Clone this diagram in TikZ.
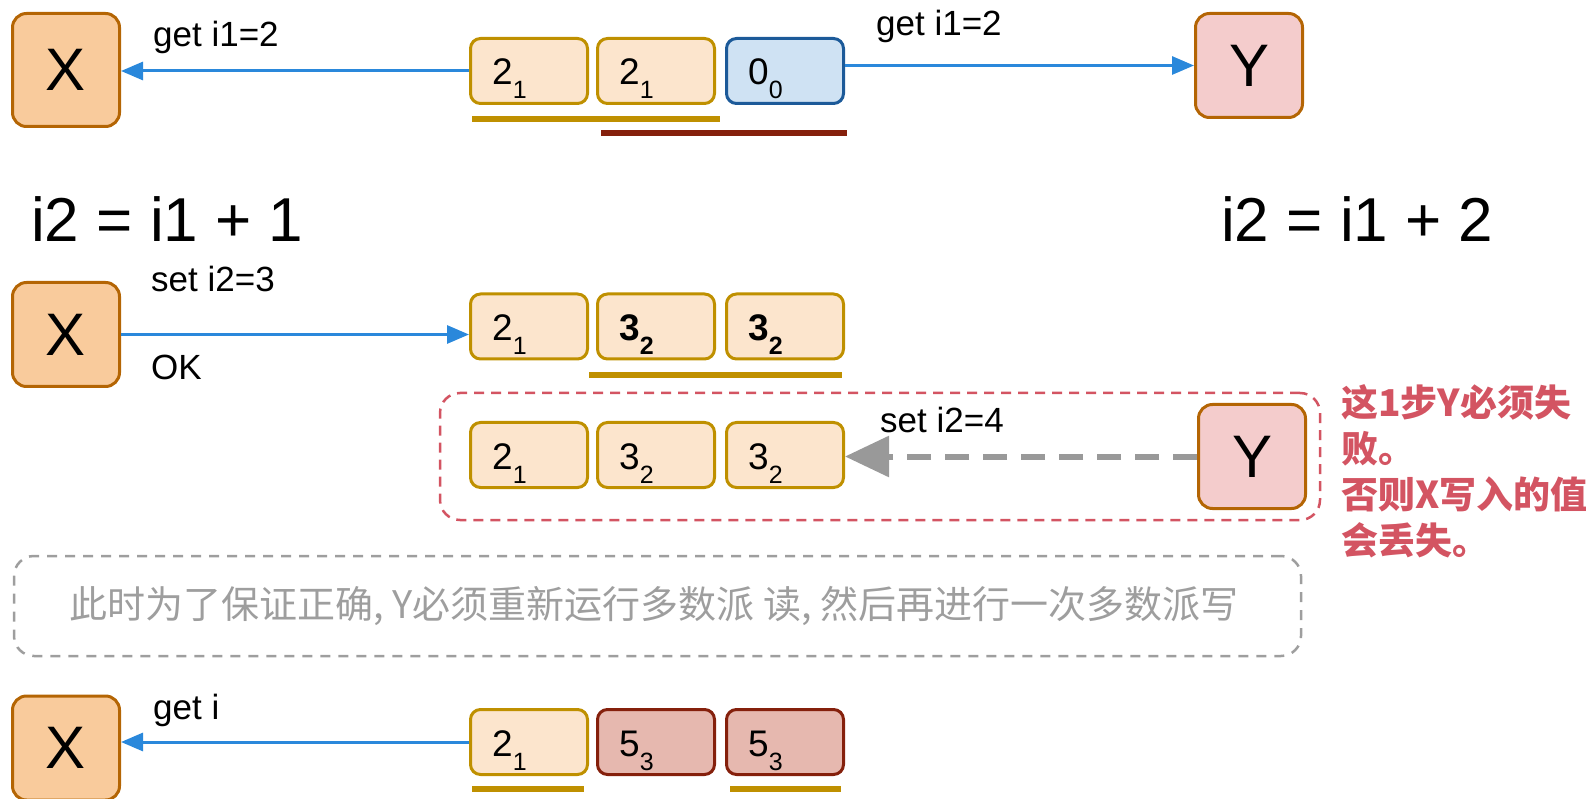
\documentclass[tikz,border=0pt]{standalone}
\usepackage{fontspec}
\setmainfont{Liberation Sans}
\newfontfamily\cjk{Noto Sans CJK SC}
\usetikzlibrary{arrows.meta}
\definecolor{xfill}{HTML}{F9CB9C}
\definecolor{xdraw}{HTML}{B46504}
\definecolor{yfill}{HTML}{F4CCCC}
\definecolor{gfill}{HTML}{FCE5CD}
\definecolor{gdraw}{HTML}{BF9000}
\definecolor{bfill}{HTML}{CFE2F3}
\definecolor{bdraw}{HTML}{1C5A99}
\definecolor{rfill}{HTML}{E6B8AF}
\definecolor{rdraw}{HTML}{85200C}
\definecolor{arrowblue}{HTML}{2A88DB}
\definecolor{alert}{HTML}{D35462}
\definecolor{graybox}{HTML}{9E9E9E}
\definecolor{arrowgray}{HTML}{999999}
\newcommand{\val}[2]{\fontsize{37}{40}\selectfont #1\raisebox{-14pt}{\fontsize{25}{28}\selectfont #2}}
\tikzset{
  actor/.style={draw=xdraw, line width=3pt, rounded corners=14pt, minimum width=107pt, minimum height=104pt, inner sep=0pt, font=\fontsize{60}{60}\selectfont},
  xbox/.style={actor, fill=xfill},
  ybox/.style={actor, fill=yfill},
  cell/.style={line width=3pt, rounded corners=10pt, minimum width=117pt, minimum height=65pt, inner sep=0pt},
  cellG/.style={cell, draw=gdraw, fill=gfill},
  cellB/.style={cell, draw=bdraw, fill=bfill},
  cellR/.style={cell, draw=rdraw, fill=rfill},
  cval/.style={anchor=base west, inner sep=0pt},
  flow/.style={draw=arrowblue, line width=3pt, -{Triangle[length=22pt,width=18pt]}},
  lbl/.style={anchor=west, font=\fontsize{35}{35}\selectfont, inner sep=0pt},
  big/.style={anchor=west, font=\fontsize{62}{62}\selectfont, inner sep=0pt},
  uline/.style={line width=6pt},
}
\begin{document}
\begin{tikzpicture}[x=1pt,y=-1pt]
\useasboundingbox (0,0) rectangle (1596,799);

% ---------- row 1 ----------
\node[xbox, minimum height=113pt] (X1) at (66,70) {X};
\node[ybox] (Y1) at (1249,65.5) {Y};
\node[cellG] (c11) at (529,71) {};
\node[cellG] (c12) at (656,71) {};
\node[cellB] (c13) at (785,71) {};
\node[cval] (v11) at ([xshift=23pt,yshift=-14pt]c11.west) {\val{2}{1}};
\node[cval] (v12) at ([xshift=23pt,yshift=-14pt]c12.west) {\val{2}{1}};
\node[cval] (v13) at ([xshift=23pt,yshift=-14pt]c13.west) {\val{0}{0}};
\draw[uline, gdraw] (472,119) -- (720,119);
\draw[uline, rdraw] (601,133) -- (847,133);
\draw[flow] (c11.west) -- (c11.west -| X1.east);
\draw[flow] (Y1.west -| c13.east) -- (Y1.west);
\node[lbl] (l1) at (153,37) {get i1=2};
\node[lbl] (l2) at (876,26) {get i1=2};

\node[big] (f1) at (31,219) {i2 = i1 + 1};
\node[big] (f2) at (1221,219) {i2 = i1 + 2};

% ---------- row 2 ----------
\node[xbox] (X2) at (66,334.5) {X};
\node[cellG] (c21) at (529,326.5) {};
\node[cellG] (c22) at (656,326.5) {};
\node[cellG] (c23) at (785,326.5) {};
\node[cval] (v21) at ([xshift=23pt,yshift=-14pt]c21.west) {\val{2}{1}};
\node[cval] (v22) at ([xshift=23pt,yshift=-14pt]c22.west) {\bfseries\val{3}{2}};
\node[cval] (v23) at ([xshift=23pt,yshift=-14pt]c23.west) {\bfseries\val{3}{2}};
\draw[uline, gdraw] (589,375) -- (842,375);
\draw[flow] (X2.east) -- (X2.east -| c21.west);
\node[lbl] (l3) at (151,279) {set i2=3};
\node[lbl] (l4) at (151,367) {OK};

% ---------- row 3 ----------
\node[draw=alert, line width=2.5pt, dash pattern=on 10pt off 7pt, rounded corners=20pt, minimum width=880pt, minimum height=127pt] (rbox) at (880,456.5) {};
\node[ybox] (Y3) at (1252,456.5) {Y};
\node[cellG] (c31) at (529,455) {};
\node[cellG] (c32) at (656,455) {};
\node[cellG] (c33) at (785,455) {};
\node[cval] (v31) at ([xshift=23pt,yshift=-14pt]c31.west) {\val{2}{1}};
\node[cval] (v32) at ([xshift=23pt,yshift=-14pt]c32.west) {\val{3}{2}};
\node[cval] (v33) at ([xshift=23pt,yshift=-14pt]c33.west) {\val{3}{2}};
\draw[draw=arrowgray, line width=6pt, dash pattern=on 24pt off 14pt, -{Triangle[length=44pt,width=40pt]}] (Y3.west) -- (Y3.west -| c33.east);
\node[lbl] (l5) at (880,420) {set i2=4};
\node[anchor=north west, align=left, inner sep=0pt, text=alert, font=\cjk\bfseries\fontsize{37}{46}\selectfont] (note) at (1341,384) {这1步Y必须失\\败。\\否则X写入的值\\会丢失。};

% ---------- note box ----------
\node[draw=graybox, line width=2.5pt, dash pattern=on 10pt off 8pt, rounded corners=20pt, minimum width=1287pt, minimum height=100pt] (gbox) at (657.5,606) {};
\node[text=graybox, inner sep=0pt, font=\cjk\fontsize{38}{38}\selectfont] (tip) at (654,606) {此时为了保证正确, Y必须重新运行多数派 读, 然后再进行一次多数派写};

% ---------- row 4 ----------
\node[xbox] (X4) at (66,748) {X};
\node[cellG] (c41) at (529,742) {};
\node[cellR] (c42) at (656,742) {};
\node[cellR] (c43) at (785,742) {};
\node[cval] (v41) at ([xshift=23pt,yshift=-14pt]c41.west) {\val{2}{1}};
\node[cval] (v42) at ([xshift=23pt,yshift=-14pt]c42.west) {\val{5}{3}};
\node[cval] (v43) at ([xshift=23pt,yshift=-14pt]c43.west) {\val{5}{3}};
\draw[uline, gdraw] (472,789) -- (584,789);
\draw[uline, gdraw] (730,789) -- (841,789);
\draw[flow] (c41.west) -- (c41.west -| X4.east);
\node[lbl] (l6) at (153,710) {get i};
\end{tikzpicture}
\end{document}
